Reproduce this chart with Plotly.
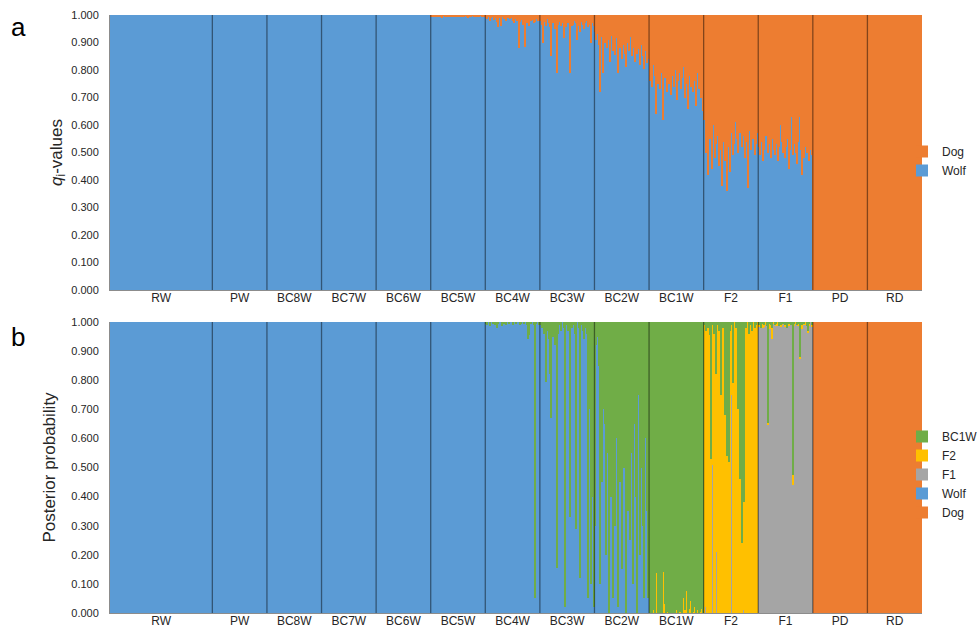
import numpy as np
import plotly.graph_objects as go

# ---------------- data ----------------
group_names = ["RW", "PW", "BC8W", "BC7W", "BC6W", "BC5W", "BC4W", "BC3W",
               "BC2W", "BC1W", "F2", "F1", "PD", "RD"]
group_sizes = [75, 40, 40, 40, 40, 40, 40, 40, 40, 40, 40, 40, 40, 40]

# panel a: q-values (Dog share, Wolf = 1 - Dog)
pure_wolf_dog_q = 0.0
pure_dog_dog_q = 1.0
bc5w_dog = [0.004, 0.006, 0.003, 0.008, 0.005, 0.002, 0.007, 0.004, 0.010, 0.003,
            0.005, 0.006, 0.004, 0.002, 0.009, 0.005, 0.003, 0.006, 0.004, 0.008,
            0.005, 0.003, 0.007, 0.004, 0.006, 0.002, 0.005, 0.012, 0.004, 0.006,
            0.003, 0.005, 0.007, 0.004, 0.008, 0.005, 0.003, 0.006, 0.004, 0.009]
bc4w_dog = [0.010, 0.015, 0.008, 0.020, 0.012, 0.006, 0.018, 0.010, 0.025, 0.045,
            0.012, 0.040, 0.008, 0.015, 0.010, 0.020, 0.012, 0.007, 0.015, 0.010,
            0.022, 0.030, 0.015, 0.020, 0.120, 0.025, 0.018, 0.035, 0.020, 0.115,
            0.030, 0.025, 0.040, 0.022, 0.018, 0.030, 0.026, 0.015, 0.020, 0.012]
bc3w_dog = [0.020, 0.035, 0.100, 0.025, 0.040, 0.015, 0.030, 0.045, 0.150, 0.030,
            0.020, 0.050, 0.210, 0.035, 0.025, 0.040, 0.030, 0.085, 0.020, 0.045,
            0.030, 0.025, 0.210, 0.040, 0.035, 0.020, 0.030, 0.090, 0.040, 0.060,
            0.025, 0.035, 0.050, 0.030, 0.020, 0.045, 0.035, 0.100, 0.030, 0.040]
bc2w_dog = [0.060, 0.090, 0.070, 0.110, 0.280, 0.080, 0.210, 0.100, 0.065, 0.120,
            0.090, 0.170, 0.075, 0.130, 0.100, 0.145, 0.085, 0.210, 0.120, 0.095,
            0.160, 0.110, 0.140, 0.190, 0.100, 0.130, 0.080, 0.150, 0.120, 0.170,
            0.105, 0.140, 0.125, 0.180, 0.110, 0.150, 0.195, 0.130, 0.175, 0.160]
bc1w_dog = [0.240, 0.200, 0.260, 0.180, 0.220, 0.360, 0.250, 0.190, 0.270, 0.210,
            0.380, 0.230, 0.200, 0.280, 0.250, 0.170, 0.290, 0.220, 0.260, 0.200,
            0.310, 0.240, 0.210, 0.270, 0.230, 0.190, 0.300, 0.250, 0.340, 0.220,
            0.260, 0.200, 0.280, 0.240, 0.330, 0.210, 0.270, 0.250, 0.300, 0.350]
f2_dog = [0.380, 0.500, 0.330, 0.580, 0.450, 0.420, 0.560, 0.400, 0.520, 0.470,
          0.440, 0.550, 0.490, 0.620, 0.460, 0.530, 0.410, 0.640, 0.480, 0.570,
          0.430, 0.510, 0.470, 0.390, 0.450, 0.500, 0.430, 0.330, 0.480, 0.440,
          0.520, 0.460, 0.630, 0.420, 0.490, 0.340, 0.450, 0.510, 0.470, 0.430]
f1_dog = [0.480, 0.510, 0.460, 0.530, 0.490, 0.440, 0.340, 0.500, 0.470, 0.520,
          0.450, 0.490, 0.510, 0.470, 0.530, 0.480, 0.400, 0.460, 0.500, 0.520,
          0.480, 0.450, 0.560, 0.490, 0.370, 0.510, 0.470, 0.500, 0.540, 0.460,
          0.370, 0.490, 0.580, 0.520, 0.480, 0.500, 0.450, 0.530, 0.490, 0.510]

# panel b: posterior probabilities
bc4w_bc1w = [0.005, 0.010, 0.000, 0.015, 0.000, 0.005, 0.000, 0.010, 0.020, 0.005,
             0.000, 0.000, 0.015, 0.005, 0.000, 0.010, 0.000, 0.005, 0.000, 0.000,
             0.010, 0.000, 0.005, 0.000, 0.000, 0.010, 0.005, 0.000, 0.005, 0.000,
             0.010, 0.060, 0.045, 0.005, 0.000, 0.010, 0.950, 0.005, 0.000, 0.010]
bc3w_bc1w = [0.010, 0.020, 0.000, 0.040, 0.205, 0.030, 0.060, 0.180, 0.330, 0.050,
             0.020, 0.080, 0.845, 0.040, 0.010, 0.030, 0.000, 0.020, 0.980, 0.010,
             0.030, 0.000, 0.670, 0.020, 0.010, 0.040, 0.710, 0.000, 0.020, 0.880,
             0.010, 0.030, 0.060, 0.020, 0.040, 0.950, 0.300, 0.900, 0.600, 0.980]
bc2w_wolf = [0.300, 0.920, 0.950, 0.850, 0.100, 0.450, 0.700, 0.650, 0.200, 0.550,
             0.000, 0.750, 0.400, 0.050, 0.880, 0.300, 0.600, 0.020, 0.450, 0.800,
             0.150, 0.500, 0.700, 0.000, 0.350, 0.900, 0.250, 0.550, 0.100, 0.650,
             0.400, 0.000, 0.750, 0.200, 0.500, 0.300, 0.050, 0.600, 0.350, 0.050]
bc1w_f2 = [0.000, 0.005, 0.000, 0.010, 0.000, 0.137, 0.000, 0.005, 0.000, 0.000,
           0.140, 0.030, 0.000, 0.005, 0.000, 0.010, 0.000, 0.000, 0.005, 0.000,
           0.010, 0.000, 0.005, 0.020, 0.000, 0.050, 0.010, 0.075, 0.000, 0.015,
           0.040, 0.000, 0.005, 0.020, 0.000, 0.010, 0.000, 0.005, 0.015, 0.000]
f2_bc1w = [0.010, 0.030, 0.000, 0.020, 0.045, 0.470, 0.010, 0.040, 0.020, 0.180,
           0.010, 0.030, 0.250, 0.000, 0.020, 0.320, 0.010, 0.460, 0.480, 0.030,
           0.010, 0.210, 0.000, 0.020, 0.010, 0.300, 0.540, 0.030, 0.760, 0.620,
           0.010, 0.020, 0.000, 0.040, 0.010, 0.030, 0.000, 0.020, 0.010, 0.000]
f2_f1 = [0.000, 0.020, 0.000, 0.000, 0.000, 0.000, 0.510, 0.000, 0.000, 0.210,
         0.000, 0.000, 0.000, 0.010, 0.000, 0.000, 0.000, 0.000, 0.000, 0.000,
         0.750, 0.000, 0.000, 0.000, 0.000, 0.000, 0.000, 0.000, 0.000, 0.010,
         0.000, 0.000, 0.000, 0.000, 0.000, 0.460, 0.000, 0.000, 0.000, 0.000]
f1_bc1w = [0.010, 0.000, 0.020, 0.005, 0.010, 0.000, 0.015, 0.347, 0.005, 0.010,
           0.020, 0.000, 0.010, 0.005, 0.000, 0.015, 0.010, 0.000, 0.005, 0.010,
           0.000, 0.020, 0.005, 0.000, 0.010, 0.526, 0.005, 0.000, 0.010, 0.005,
           0.120, 0.000, 0.010, 0.005, 0.000, 0.015, 0.030, 0.005, 0.000, 0.010]
f1_f2 = [0.005, 0.010, 0.000, 0.015, 0.005, 0.010, 0.000, 0.005, 0.020, 0.010,
         0.040, 0.005, 0.000, 0.010, 0.015, 0.000, 0.005, 0.010, 0.000, 0.005,
         0.015, 0.000, 0.010, 0.005, 0.000, 0.034, 0.010, 0.005, 0.000, 0.010,
         0.005, 0.000, 0.015, 0.005, 0.010, 0.000, 0.005, 0.010, 0.000, 0.005]

# ---------------- assemble ----------------
sizes = dict(zip(group_names, group_sizes))
total = sum(group_sizes)
starts = np.concatenate([[0], np.cumsum(group_sizes)[:-1]])
centers = starts + (np.array(group_sizes) - 1) / 2.0
bounds = np.cumsum(group_sizes)[:-1] - 0.5
x = np.arange(total)

dog_parts = {"BC5W": bc5w_dog, "BC4W": bc4w_dog, "BC3W": bc3w_dog, "BC2W": bc2w_dog,
             "BC1W": bc1w_dog, "F2": f2_dog, "F1": f1_dog}
dog_q = []
for g in group_names:
    if g in dog_parts:
        dog_q += dog_parts[g]
    elif g in ("PD", "RD"):
        dog_q += [pure_dog_dog_q] * sizes[g]
    else:
        dog_q += [pure_wolf_dog_q] * sizes[g]
dog_q = np.array(dog_q)
wolf_q = 1.0 - dog_q

P = {k: [] for k in ["Dog", "Wolf", "F1", "F2", "BC1W"]}
def add(g, dog=None, wolf=None, f1=None, f2=None, bc1w=None):
    n = sizes[g]
    z = [0.0] * n
    vals = {"Dog": dog or z, "Wolf": wolf or z, "F1": f1 or z, "F2": f2 or z, "BC1W": bc1w or z}
    for k in P:
        P[k] += list(vals[k])

for g in ["RW", "PW", "BC8W", "BC7W", "BC6W", "BC5W"]:
    add(g, wolf=[1.0] * sizes[g])
add("BC4W", bc1w=bc4w_bc1w, wolf=[1 - v for v in bc4w_bc1w])
add("BC3W", bc1w=bc3w_bc1w, wolf=[1 - v for v in bc3w_bc1w])
add("BC2W", wolf=bc2w_wolf, bc1w=[1 - v for v in bc2w_wolf])
add("BC1W", f2=bc1w_f2, bc1w=[1 - v for v in bc1w_f2])
add("F2", bc1w=f2_bc1w, f1=f2_f1, f2=[1 - a - b for a, b in zip(f2_bc1w, f2_f1)])
add("F1", bc1w=f1_bc1w, f2=f1_f2, f1=[1 - a - b for a, b in zip(f1_bc1w, f1_f2)])
for g in ["PD", "RD"]:
    add(g, dog=[1.0] * sizes[g])

# ---------------- figure ----------------
BLUE, ORANGE, GREEN, YELLOW, GREY = "#5B9BD5", "#ED7D31", "#70AD47", "#FFC000", "#A5A5A5"
FONT = "Liberation Sans, Arial, sans-serif"

fig = go.Figure()
for name, vals, col in [("Wolf", wolf_q, BLUE), ("Dog", dog_q, ORANGE)]:
    fig.add_trace(go.Bar(x=x, y=vals, name=name, marker=dict(color=col, line=dict(width=0)),
                         width=1.0, xaxis="x", yaxis="y", legend="legend",
                         hoverinfo="skip"))
for name, col in [("Dog", ORANGE), ("Wolf", BLUE), ("F1", GREY), ("F2", YELLOW), ("BC1W", GREEN)]:
    fig.add_trace(go.Bar(x=x, y=P[name], name=name, marker=dict(color=col, line=dict(width=0)),
                         width=1.0, xaxis="x2", yaxis="y2", legend="legend2",
                         hoverinfo="skip"))

shapes = []
for xr, yr in [("x", "y domain"), ("x2", "y2 domain")]:
    for b in bounds:
        shapes.append(dict(type="line", xref=xr, yref=yr, x0=b, x1=b, y0=0, y1=1,
                           line=dict(color="rgba(0,0,0,0.45)", width=1.3)))

xcommon = dict(range=[-0.5, total - 0.5], tickmode="array", tickvals=centers, ticktext=group_names,
               ticks="", showgrid=False, zeroline=False, showline=True, linecolor="#8c8c8c",
               linewidth=1, automargin=False, ticklabelstandoff=-3,
               tickfont=dict(family=FONT, size=12, color="#262626"))
ycommon = dict(range=[0, 1], tickmode="array", tickvals=[i / 10 for i in range(11)],
               tickformat=".3f", ticks="", showgrid=False, zeroline=False, showline=True,
               linecolor="#8c8c8c", linewidth=1, ticklabelstandoff=8, automargin=False,
               tickfont=dict(family=FONT, size=11, color="#262626"))

LEG_X = (902 - 110) / 812
fig.update_layout(
    width=978, height=629,
    margin=dict(l=110, r=56, t=0, b=0, autoexpand=False),
    paper_bgcolor="white", plot_bgcolor="white",
    barmode="stack", bargap=0,
    font=dict(family=FONT, color="#262626"),
    xaxis=dict(domain=[0, 1], anchor="y", **xcommon),
    yaxis=dict(domain=[1 - 290 / 629, 1 - 15 / 629], anchor="x",
               title=dict(text="<i>q</i><sub>i</sub>-values", standoff=4,
                          font=dict(family=FONT, size=17, color="#262626")), **ycommon),
    xaxis2=dict(domain=[0, 1], anchor="y2", **xcommon),
    yaxis2=dict(domain=[1 - 613 / 629, 1 - 322 / 629], anchor="x2",
                title=dict(text="Posterior probability", standoff=11,
                           font=dict(family=FONT, size=17, color="#262626")), **ycommon),
    legend=dict(x=LEG_X, xanchor="left", y=1 - 137 / 629, yanchor="top", yref="paper",
                traceorder="reversed", bgcolor="rgba(0,0,0,0)",
                font=dict(family=FONT, size=12, color="#262626")),
    legend2=dict(x=LEG_X, xanchor="left", y=1 - 422 / 629, yanchor="top", yref="paper",
                 traceorder="reversed", bgcolor="rgba(0,0,0,0)",
                 font=dict(family=FONT, size=12, color="#262626")),
    shapes=shapes,
    annotations=[
        dict(text="a", xref="paper", yref="paper", x=(18 - 110) / 812, y=1 - 27 / 629,
             xanchor="center", yanchor="middle", showarrow=False,
             font=dict(family=FONT, size=26, color="black")),
        dict(text="b", xref="paper", yref="paper", x=(18 - 110) / 812, y=1 - 337 / 629,
             xanchor="center", yanchor="middle", showarrow=False,
             font=dict(family=FONT, size=26, color="black")),
    ],
)

fig.write_html("out.html", config={"displayModeBar": False},
               post_script="document.body.style.margin='0px';document.body.style.overflow='hidden';")
